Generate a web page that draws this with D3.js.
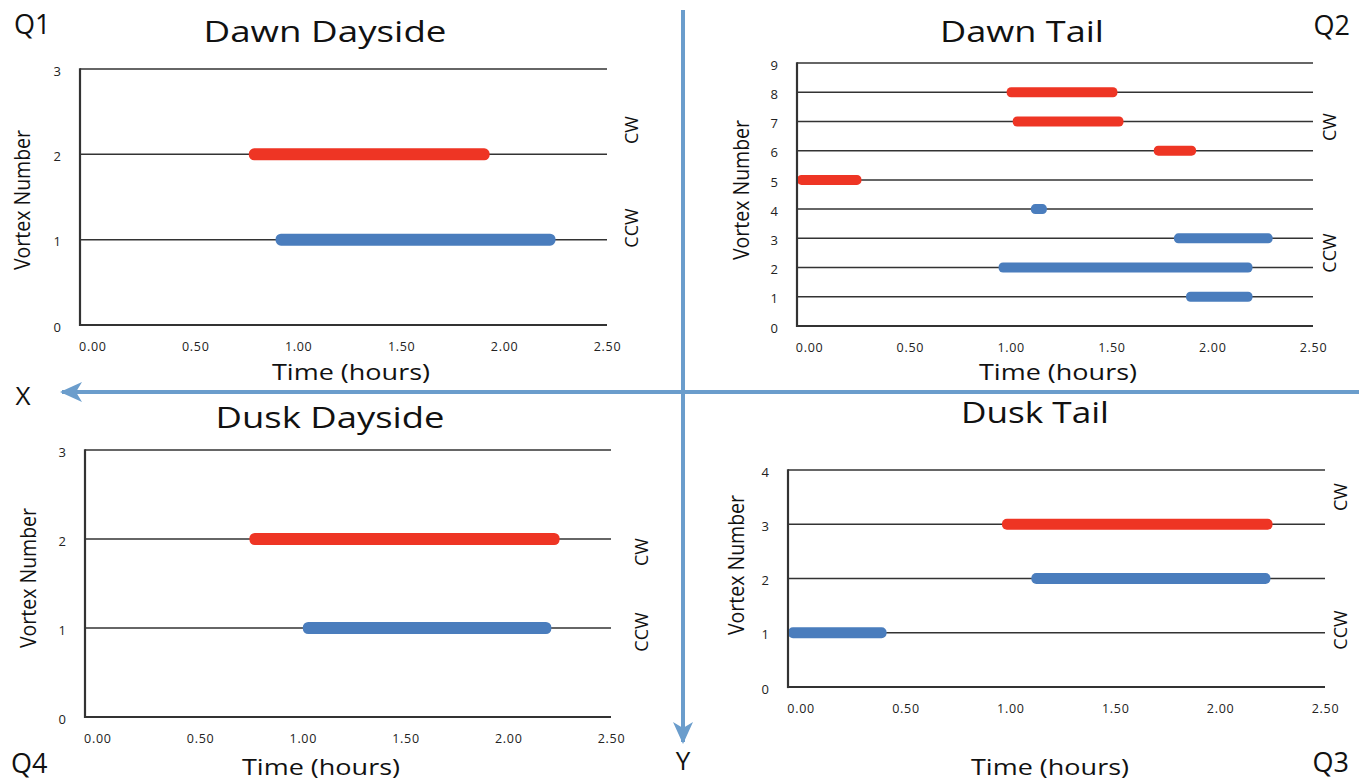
<!DOCTYPE html>
<html>
<head>
<meta charset="utf-8">
<script src="https://cdn.jsdelivr.net/npm/d3@7/dist/d3.min.js"></script>
<style>
  html, body { margin: 0; padding: 0; background: #ffffff; }
  svg { display: block; font-family: "Open Sans", "Noto Sans", sans-serif; }
</style>
</head>
<body>
<svg id="chart" width="1359" height="781"></svg>
<script>
// ---------- data ----------
const timeTicks = [0, 0.5, 1, 1.5, 2, 2.5];
const timeDomain = [-0.06, 2.5];

const dawnDaysideVortex = [2, 1];
const dawnDaysideStart  = [0.76, 0.89];
const dawnDaysideEnd    = [1.93, 2.25];
const dawnDaysideSense  = ["CW", "CCW"];

const dawnTailVortex = [8, 7, 6, 5, 4, 3, 2, 1];
const dawnTailStart  = [0.98, 1.01, 1.71, -0.06, 1.10, 1.81, 0.94, 1.87];
const dawnTailEnd    = [1.53, 1.56, 1.92, 0.26, 1.18, 2.30, 2.20, 2.20];
const dawnTailSense  = ["CW", "CW", "CW", "CW", "CCW", "CCW", "CCW", "CCW"];

const duskDaysideVortex = [2, 1];
const duskDaysideStart  = [0.74, 1.00];
const duskDaysideEnd    = [2.25, 2.21];
const duskDaysideSense  = ["CW", "CCW"];

const duskTailVortex = [3, 2, 1];
const duskTailStart  = [0.96, 1.10, -0.06];
const duskTailEnd    = [2.25, 2.24, 0.41];
const duskTailSense  = ["CW", "CCW", "CCW"];

const quadrantLabels = ["Q1", "Q2", "Q3", "Q4"];
const panelTitles = ["Dawn Dayside", "Dawn Tail", "Dusk Dayside", "Dusk Tail"];
const senseColors = { CW: "#ee3524", CCW: "#4a7dbd" };

// ---------- layout ----------
const svg = d3.select("#chart");
const AX = "#333333";
const arrowColor = "#6b9dcc";

function zip(v, s, e, c) { return v.map((d, i) => ({ vortex: d, start: s[i], end: e[i], sense: c[i] })); }

const panels = [
  { title: panelTitles[0], titleW: 243, yMax: 3, left: 80, right: 607, top: 69, bottom: 325, barH: 12,
    data: zip(dawnDaysideVortex, dawnDaysideStart, dawnDaysideEnd, dawnDaysideSense),
    titleX: 325, titleY: 42, xlabX: 351, xlabY: 380, ylabX: 22, ylabY: 200,
    cw: [632, 130], ccw: [632, 228] },
  { title: panelTitles[1], titleW: 164, yMax: 9, left: 797, right: 1313, top: 63, bottom: 326, barH: 10,
    data: zip(dawnTailVortex, dawnTailStart, dawnTailEnd, dawnTailSense),
    titleX: 1022, titleY: 42, xlabX: 1058, xlabY: 380, ylabX: 741, ylabY: 190,
    cw: [1330, 127], ccw: [1330, 253] },
  { title: panelTitles[2], titleW: 229, yMax: 3, left: 85, right: 611, top: 450, bottom: 717, barH: 12,
    data: zip(duskDaysideVortex, duskDaysideStart, duskDaysideEnd, duskDaysideSense),
    titleX: 330, titleY: 428, xlabX: 321, xlabY: 775, ylabX: 28, ylabY: 578,
    cw: [642, 552], ccw: [642, 632] },
  { title: panelTitles[3], titleW: 148, yMax: 4, left: 788, right: 1325, top: 470, bottom: 687, barH: 11,
    data: zip(duskTailVortex, duskTailStart, duskTailEnd, duskTailSense),
    titleX: 1035, titleY: 423, xlabX: 1050, xlabY: 775, ylabX: 736, ylabY: 565,
    cw: [1341, 497], ccw: [1341, 630] }
];

const defs = svg.append("defs");

// ---------- central arrows ----------
defs.append("marker")
  .attr("id", "arrowHead")
  .attr("viewBox", "0 0 22 22")
  .attr("refX", 20).attr("refY", 11)
  .attr("markerWidth", 22).attr("markerHeight", 22)
  .attr("markerUnits", "userSpaceOnUse")
  .attr("orient", "auto")
  .append("path")
  .attr("d", "M0,1 L22,11 L0,21 L6,11 Z")
  .attr("fill", arrowColor);

svg.append("line")
  .attr("x1", 1359).attr("y1", 392).attr("x2", 62).attr("y2", 392)
  .attr("stroke", arrowColor).attr("stroke-width", 4)
  .attr("marker-end", "url(#arrowHead)");
svg.append("line")
  .attr("x1", 683).attr("y1", 10).attr("x2", 683).attr("y2", 742)
  .attr("stroke", arrowColor).attr("stroke-width", 4)
  .attr("marker-end", "url(#arrowHead)");

svg.append("text").attr("x", 23).attr("y", 405).attr("text-anchor", "middle")
  .attr("font-size", 26).attr("fill", "#111").text("X");
svg.append("text").attr("x", 683).attr("y", 770).attr("text-anchor", "middle")
  .attr("font-size", 26).attr("fill", "#111").text("Y");

// quadrant labels
const qPos = [[14, 34, "start"], [1350, 35, "end"], [1349, 772, "end"], [11, 773, "start"]];
quadrantLabels.forEach((q, i) => {
  svg.append("text").attr("x", qPos[i][0]).attr("y", qPos[i][1])
    .attr("text-anchor", qPos[i][2]).attr("font-size", 27).attr("fill", "#111").text(q);
});

// ---------- panels ----------
panels.forEach((p, pi) => {
  const g = svg.append("g");
  const xs = d3.scaleLinear().domain(timeDomain).range([p.left, p.right]);
  const ys = d3.scaleLinear().domain([0, p.yMax]).range([p.bottom, p.top]);
  const rows = d3.range(0, p.yMax + 1);

  // row lines
  g.selectAll("line.row").data(rows).join("line")
    .attr("class", "row")
    .attr("x1", p.left).attr("x2", p.right)
    .attr("y1", d => ys(d)).attr("y2", d => ys(d))
    .attr("stroke", AX).attr("stroke-width", d => d === 0 ? 2.2 : 1.5);

  // left axis line
  g.append("line")
    .attr("x1", p.left).attr("x2", p.left)
    .attr("y1", ys(p.yMax) - 0.75).attr("y2", ys(0) + 1.1)
    .attr("stroke", AX).attr("stroke-width", 2.2);

  // bars
  const clipId = "clip" + pi;
  defs.append("clipPath").attr("id", clipId)
    .append("rect").attr("x", p.left + 1).attr("y", p.top - 20)
    .attr("width", p.right - p.left + 20).attr("height", p.bottom - p.top + 40);

  g.append("g").attr("clip-path", `url(#${clipId})`)
    .selectAll("rect").data(p.data).join("rect")
    .attr("x", d => xs(d.start))
    .attr("width", d => xs(d.end) - xs(d.start))
    .attr("y", d => ys(d.vortex) - p.barH / 2)
    .attr("height", p.barH)
    .attr("rx", p.barH * 0.45)
    .attr("fill", d => senseColors[d.sense]);

  // x axis tick labels
  const xAxis = d3.axisBottom(xs).tickValues(timeTicks).tickSize(0).tickPadding(0)
    .tickFormat(d3.format(".2f"));
  const xg = g.append("g").attr("transform", `translate(0,${p.bottom + 17})`).call(xAxis);
  xg.select(".domain").remove();
  xg.selectAll("text").attr("font-size", 12.5).attr("fill", "#222")
    .attr("letter-spacing", 0.7)
    .attr("font-family", "'Open Sans', sans-serif");

  // y axis tick labels
  const yAxis = d3.axisLeft(ys).tickValues(rows).tickSize(0).tickPadding(0)
    .tickFormat(d3.format("d"));
  const yg = g.append("g").attr("transform", `translate(${p.left - 19},2)`).call(yAxis);
  yg.select(".domain").remove();
  yg.selectAll("text").attr("font-size", 13).attr("fill", "#222")
    .attr("font-family", "'Open Sans', sans-serif");

  // title
  g.append("text").attr("x", p.titleX).attr("y", p.titleY).attr("text-anchor", "middle")
    .attr("font-size", 29).attr("fill", "#111")
    .attr("textLength", p.titleW).attr("lengthAdjust", "spacingAndGlyphs")
    .text(p.title);

  // axis titles
  g.append("text").attr("x", p.xlabX).attr("y", p.xlabY).attr("text-anchor", "middle")
    .attr("font-size", 21).attr("fill", "#111")
    .attr("textLength", 158).attr("lengthAdjust", "spacingAndGlyphs")
    .text("Time (hours)");
  g.append("text")
    .attr("transform", `translate(${p.ylabX + 8},${p.ylabY}) rotate(-90)`)
    .attr("text-anchor", "middle").attr("font-size", 22).attr("fill", "#111")
    .attr("textLength", 140).attr("lengthAdjust", "spacingAndGlyphs")
    .text("Vortex Number");

  // rotation sense labels
  [["CW", p.cw], ["CCW", p.ccw]].forEach(([t, pos]) => {
    g.append("text")
      .attr("transform", `translate(${pos[0] + 6},${pos[1]}) rotate(-90)`)
      .attr("text-anchor", "middle").attr("font-size", 18).attr("fill", "#111")
      .text(t);
  });
});
</script>
</body>
</html>
